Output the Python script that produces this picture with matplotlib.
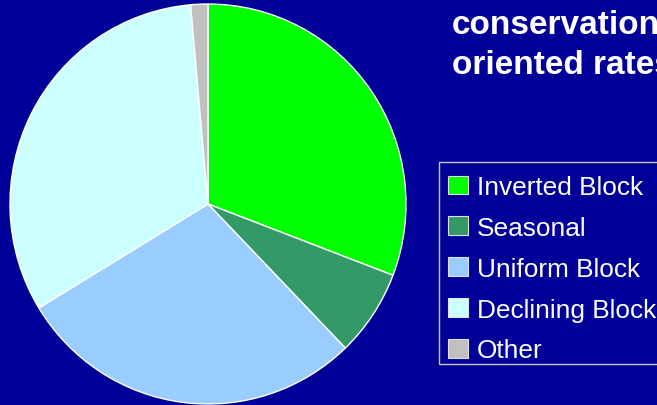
import matplotlib
matplotlib.use("Agg")
import matplotlib.pyplot as plt
from matplotlib.patches import Patch, Rectangle

# Share of utilities by rate structure (percent)
categories = ["Inverted Block", "Seasonal", "Uniform Block", "Declining Block", "Other"]
shares = [30.8, 7.0, 28.5, 32.3, 1.4]
colors = ["#00FF00", "#339966", "#99CCFF", "#CCFFFF", "#C0C0C0"]
title_lines = ["conservation", "oriented rates"]

BG = "#000099"
W, H = 657, 406
DPI = 100

fig = plt.figure(figsize=(W / DPI, H / DPI), dpi=DPI, facecolor=BG)

# Pie axes: center (208, 205) px from top-left, radii 198 x 200 px
cx, cy, rx, ry = 208, 205, 198, 200
ax = fig.add_axes([(cx - rx) / W, (H - cy - ry) / H, 2 * rx / W, 2 * ry / H])
ax.set_facecolor(BG)
ax.pie(shares, colors=colors, startangle=90, counterclock=False, radius=1,
       wedgeprops=dict(edgecolor="white", linewidth=1.0))
ax.set_xlim(-1.0, 1.0)
ax.set_ylim(-1.0, 1.0)
ax.set_aspect("auto")
ax.axis("off")

# Title lines (run past the right edge of the figure)
for line, base in zip(title_lines, [34.3, 74.0]):
    fig.text(452 / W, (H - base) / H, line, color="white", fontsize=24,
             fontweight="bold", family="Liberation Sans", ha="left", va="baseline")

# Legend box outline, drawn separately so the entries can sit inside it freely
box_left, box_top, box_bottom = 439, 163, 365
fig.patches.append(Rectangle((box_left / W, (H - box_bottom) / H),
                             (W + 20 - box_left) / W, (box_bottom - box_top) / H,
                             transform=fig.transFigure, facecolor="none",
                             edgecolor="#C8C8C8", linewidth=1.0, zorder=5))

handles = [Patch(facecolor=c, edgecolor="#E0E0E0", linewidth=0.8) for c in colors]
leg = fig.legend(handles, categories, loc="upper left",
                 bbox_to_anchor=(439 / W, (H - 167) / H),
                 prop=dict(family="Liberation Sans", size=18.9),
                 frameon=False, handlelength=0.75, handleheight=0.72,
                 handletextpad=0.35, labelspacing=0.64, borderpad=0.35,
                 borderaxespad=0)
for t in leg.get_texts():
    t.set_color("white")

fig.savefig("out.png", dpi=DPI, facecolor=BG)
